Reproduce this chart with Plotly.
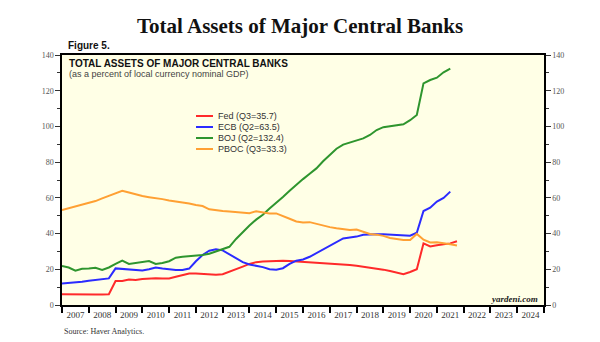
import plotly.graph_objects as go

# ---------------- data ----------------
years = list(range(2007, 2025))
quarter_pos = [2007 + k / 4 for k in range(60)]  # quarterly positions, 2007.0 .. 2021.75

fed = [6.0, 5.9, 5.9, 5.9, 5.9, 5.9, 5.9, 6.0,
       13.4, 13.5, 14.3, 14.0, 14.6, 14.9, 15.0, 14.9,
       14.9, 15.8, 16.8, 17.6, 17.6, 17.4, 17.0, 17.0,
       17.2, 18.5, 20.0, 21.5, 23.0, 24.0, 24.4, 24.6,
       24.8, 24.8, 24.6, 24.4, 24.2, 24.0, 23.8, 23.5,
       23.3, 23.0, 22.8, 22.4, 22.0, 21.5, 21.0, 20.4,
       19.8, 19.0, 18.2, 17.3, 18.5, 20.0, 34.5, 32.8,
       33.5, 34.0, 34.5, 35.7]

ecb = [12.1, 12.3, 12.6, 13.0, 13.6, 14.0, 14.4, 14.9,
       20.5, 20.3, 19.8, 19.6, 19.3, 20.0, 21.0, 20.4,
       19.8, 19.6, 19.6, 20.4, 24.5, 28.0, 30.4, 31.2,
       30.6, 28.5, 26.0, 24.0, 22.7, 22.0, 21.2, 20.0,
       19.7, 20.6, 23.0, 24.8, 25.5, 27.0, 29.0, 31.0,
       33.0, 35.0, 37.3, 37.8, 38.3, 39.3, 39.6, 39.6,
       39.6, 39.4, 39.0, 38.8, 38.8, 40.5, 52.6, 54.5,
       57.9, 60.0, 63.5]

boj = [21.8, 21.0, 19.2, 20.3, 20.5, 20.8, 19.6, 21.0,
       23.0, 24.8, 23.0, 23.5, 23.9, 24.6, 23.0, 23.5,
       24.5, 26.5, 27.0, 27.3, 27.7, 28.0, 28.7, 30.0,
       31.5, 32.6, 37.0, 41.0, 44.5, 47.8, 50.5, 54.0,
       57.0, 60.5, 64.0, 67.5, 70.5, 73.5, 76.5, 80.5,
       84.0, 87.5, 89.8, 91.0, 91.8, 93.3, 95.2, 98.0,
       99.6, 100.1, 100.6, 101.2, 103.5, 106.4, 124.1, 126.0,
       127.3, 130.3, 132.4]

pboc = [53.2, 54.2, 55.3, 56.3, 57.2, 58.2, 59.7, 61.2,
        62.6, 64.0, 63.0, 61.8, 61.0, 60.4, 60.0, 59.3,
        58.5, 58.0, 57.2, 56.8, 56.0, 55.4, 53.6, 52.9,
        52.6, 52.3, 52.0, 51.6, 51.4, 52.5, 51.8, 51.3,
        51.3, 50.0, 48.3, 46.8, 46.2, 46.4, 45.4, 44.8,
        43.6, 43.0, 42.4, 42.0, 42.3, 41.0, 39.8, 39.4,
        38.7, 37.5, 36.8, 36.4, 36.4, 39.8, 36.6, 35.0,
        35.2, 34.8, 34.0, 33.3]

series_names = ["Fed (Q3=35.7)", "ECB (Q2=63.5)", "BOJ (Q2=132.4)", "PBOC (Q3=33.3)"]
series_values = [fed, ecb, boj, pboc]
series_colors = ["#FF2A2A", "#2B2BFF", "#2E952E", "#FFA033"]

y_ticks = list(range(0, 141, 20))

# ---------------- geometry helpers (pixel -> paper) ----------------
W, H = 600, 342
L, R, T, B = 62, 544, 55, 305


def px(x):
    return (x - L) / (R - L)


def py(y):
    return (B - y) / (B - T)


fig = go.Figure()

for name, vals, col in zip(series_names, series_values, series_colors):
    fig.add_trace(go.Scatter(
        x=quarter_pos[:len(vals)], y=vals, mode="lines", name=name,
        line=dict(color=col, width=2), showlegend=False, hoverinfo="skip"))

# invisible trace to activate secondary axes
fig.add_trace(go.Scatter(x=[2007], y=[0], xaxis="x2", yaxis="y2", mode="markers",
                         marker=dict(opacity=0), showlegend=False, hoverinfo="skip"))

serif = "Liberation Serif"
sans = "Liberation Sans"
axis_font = dict(family=serif, size=8, color="#555555")

fig.update_layout(
    width=W, height=H,
    margin=dict(l=L, r=W - R, t=T, b=H - B),
    paper_bgcolor="white",
    plot_bgcolor="#FFFFE6",
    showlegend=False,
    xaxis=dict(range=[2007, 2025], tickvals=years + [2025], ticktext=[""] * (len(years) + 1),
               ticks="outside", ticklen=6, tickwidth=1.5, tickcolor="black",
               showline=True, linecolor="black", linewidth=1.5, mirror=True,
               showgrid=False, zeroline=False),
    xaxis2=dict(range=[2007, 2025], overlaying="x", anchor="y", side="bottom",
                tickvals=[yv + 0.5 for yv in years], ticktext=[str(yv) for yv in years],
                ticks="", showline=False, showgrid=False, zeroline=False,
                tickfont=dict(family=serif, size=9, color="#333333"), ticklabelstandoff=3),
    yaxis=dict(range=[0, 140], tickvals=y_ticks, ticks="outside", ticklen=5, tickcolor="#333333",
               minor=dict(dtick=10, ticks="outside", ticklen=3, tickcolor="#333333"),
               showline=True, linecolor="black", linewidth=1.5, showgrid=False, zeroline=False,
               tickfont=axis_font),
    yaxis2=dict(range=[0, 140], tickvals=y_ticks, overlaying="y", side="right", anchor="x",
                ticks="outside", ticklen=5, tickcolor="#333333",
                minor=dict(dtick=10, ticks="outside", ticklen=3, tickcolor="#333333"),
                showline=True, linecolor="black", linewidth=1.5, showgrid=False, zeroline=False,
                tickfont=axis_font),
)

annotations = [
    dict(text="<b>Total Assets of Major Central Banks</b>", x=px(300), y=py(26),
         xanchor="center", yanchor="middle",
         font=dict(family=serif, size=21, color="#111111")),
    dict(text="<b>Figure 5.</b>", x=px(66), y=py(46), xanchor="left", yanchor="middle",
         font=dict(family=sans, size=10, color="#111111")),
    dict(text="<b>TOTAL ASSETS OF MAJOR CENTRAL BANKS</b>", x=px(67), y=py(63),
         xanchor="left", yanchor="middle", font=dict(family=sans, size=10, color="#111111")),
    dict(text="(as a percent of local currency nominal GDP)", x=px(67), y=py(74),
         xanchor="left", yanchor="middle", font=dict(family=sans, size=9, color="#444444")),
    dict(text="<b><i>yardeni.com</i></b>", x=px(540), y=py(299), xanchor="right", yanchor="middle",
         font=dict(family=serif, size=9, color="#222222")),
    dict(text="Source: Haver Analytics.", x=px(62), y=py(331), xanchor="left", yanchor="middle",
         font=dict(family=serif, size=8, color="#333333")),
]

shapes = []
row_y = [116, 127, 138, 149]
for name, col, ry in zip(series_names, series_colors, row_y):
    shapes.append(dict(type="line", xref="paper", yref="paper", x0=px(196), x1=px(213),
                       y0=py(ry), y1=py(ry), line=dict(color=col, width=2)))
    annotations.append(dict(text=name, x=px(216), y=py(ry), xanchor="left", yanchor="middle",
                            font=dict(family=sans, size=9, color="#333333")))

for a in annotations:
    a.update(xref="paper", yref="paper", showarrow=False)

fig.update_layout(annotations=annotations, shapes=shapes)

fig.write_html("out.html")
